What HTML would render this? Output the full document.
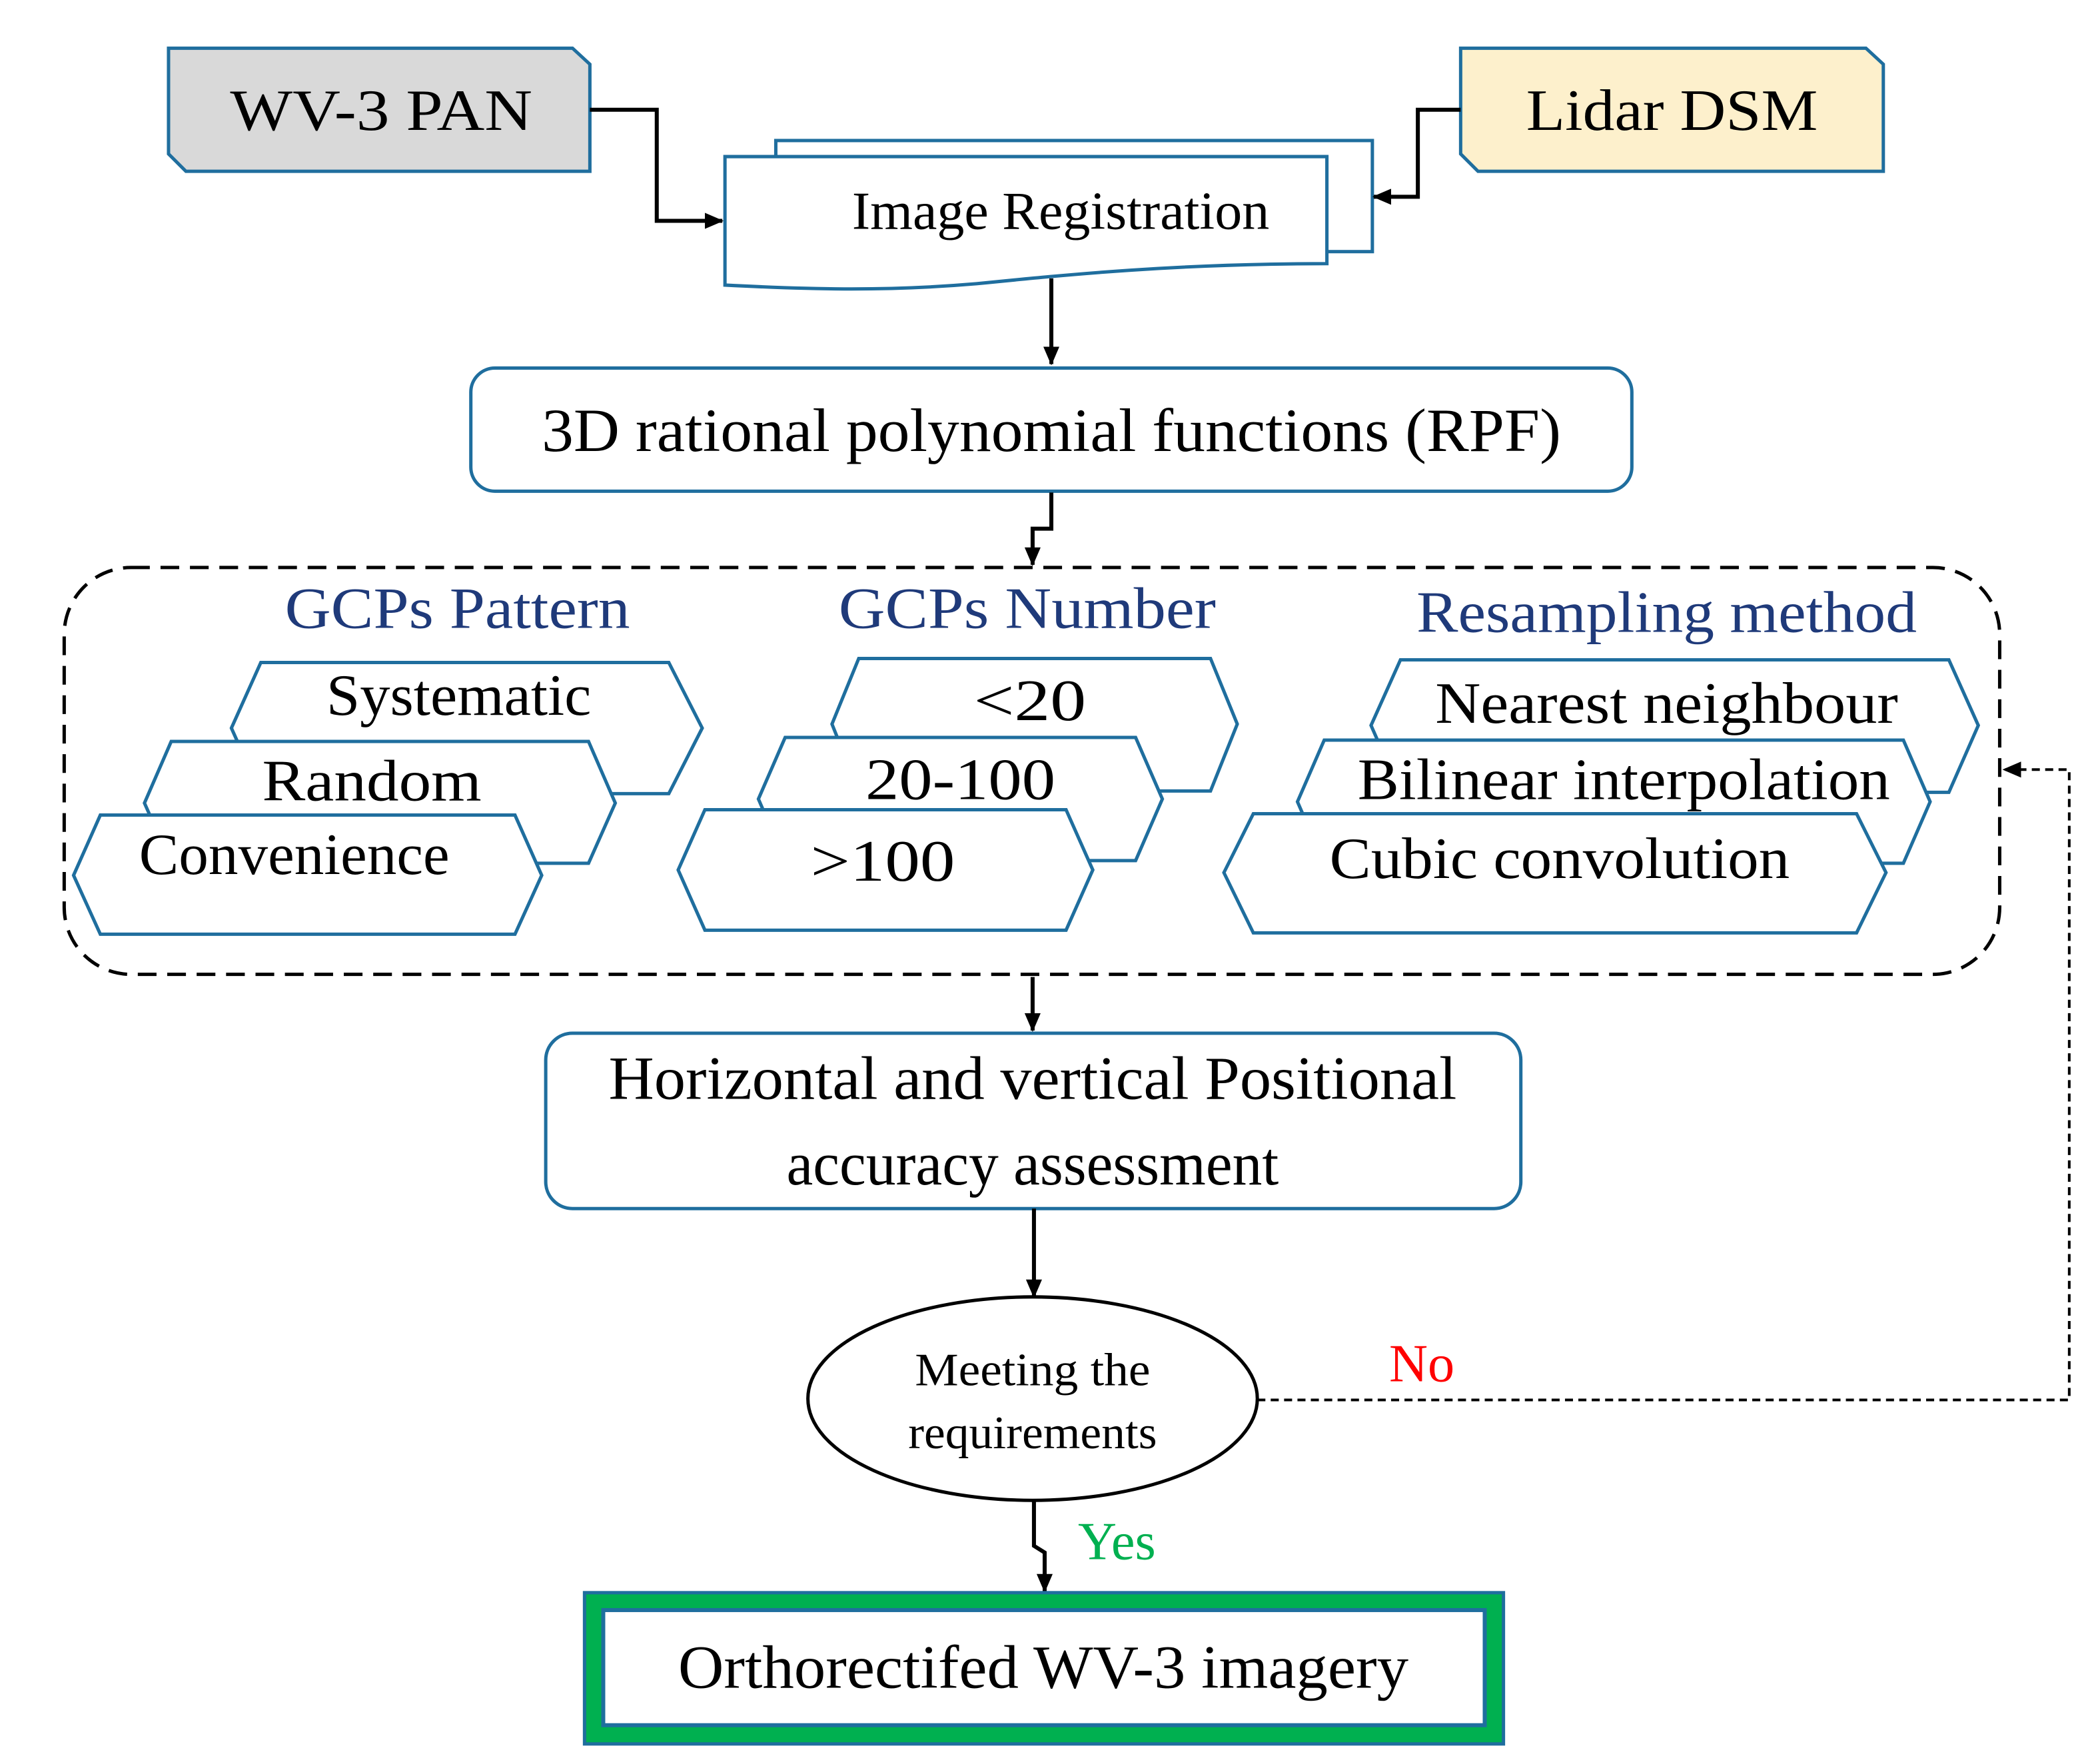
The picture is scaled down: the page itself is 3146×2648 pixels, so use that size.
<!DOCTYPE html>
<html><head><meta charset="utf-8"><style>html,body{margin:0;padding:0;background:#fff}svg{display:block}</style></head>
<body>
<svg width="3146" height="2648" viewBox="0 0 1567 1318" preserveAspectRatio="none" xmlns="http://www.w3.org/2000/svg" font-family="'Liberation Serif', serif">
<defs><marker id="a" markerWidth="14" markerHeight="12" refX="13" refY="6" orient="auto" markerUnits="userSpaceOnUse"><path d="M0,0 L14,6 L0,12 z" fill="#000"/></marker></defs>
<rect width="1567" height="1318" fill="#fff"/>
<g stroke="#1f6e9e" stroke-width="2.5">
<polygon points="126,36 428,36 441,48 441,128 139,128 126,115" fill="#d9d9d9"/>
<polygon points="1092,36 1395,36 1408,48 1408,128 1105,128 1092,115" fill="#fdf0cc"/>
<rect x="580" y="105" width="446" height="83" fill="#fff"/>
<path d="M542,117 H992 V197 C880,197 800,205 730,212 C660,218 600,216 542,213 Z" fill="#fff"/>
<rect x="352" y="275" width="868" height="92" rx="18" fill="#fff"/>
<rect x="408" y="772" width="729" height="131" rx="20" fill="#fff"/>
</g>
<g font-size="44" text-anchor="middle" fill="#000">
<text x="285" y="97" textLength="226" lengthAdjust="spacingAndGlyphs">WV-3 PAN</text>
<text x="1250" y="97" textLength="218" lengthAdjust="spacingAndGlyphs">Lidar DSM</text>
<text x="793" y="171" font-size="40" textLength="312" lengthAdjust="spacingAndGlyphs">Image Registration</text>
<text x="786" y="337" font-size="46" textLength="762" lengthAdjust="spacingAndGlyphs">3D rational polynomial functions (RPF)</text>
<text x="772" y="821" font-size="46" textLength="634" lengthAdjust="spacingAndGlyphs">Horizontal and vertical Positional</text>
<text x="772" y="885" font-size="46" textLength="368" lengthAdjust="spacingAndGlyphs">accuracy assessment</text>
</g>
<g stroke="#000" stroke-width="3" fill="none">
<polyline points="441,82 491,82 491,165 540,165" marker-end="url(#a)"/>
<polyline points="1092,82 1060,82 1060,147 1027,147" marker-end="url(#a)"/>
<line x1="786" y1="208" x2="786" y2="272" marker-end="url(#a)"/>
<polyline points="786,368 786,395 772,395 772,422" marker-end="url(#a)"/>
<line x1="772" y1="730" x2="772" y2="770" marker-end="url(#a)"/>
<line x1="773" y1="903" x2="773" y2="969" marker-end="url(#a)"/>
<polyline points="773,1122 773,1155 781,1160 781,1189" marker-end="url(#a)"/>
</g>
<rect x="48" y="424" width="1447" height="304" rx="50" fill="none" stroke="#000" stroke-width="2.5" stroke-dasharray="14,8"/>
<g font-size="44" text-anchor="middle" fill="#1f3a7a">
<text x="342" y="469" textLength="258" lengthAdjust="spacingAndGlyphs">GCPs Pattern</text>
<text x="768" y="469" textLength="282" lengthAdjust="spacingAndGlyphs">GCPs Number</text>
<text x="1246" y="472" textLength="374" lengthAdjust="spacingAndGlyphs">Resampling method</text>
</g>
<g stroke="#1f6e9e" stroke-width="2.5" fill="#fff">
<polygon points="173,544 195,495 500,495 525,544 500,593 195,593"/>
<polygon points="108,600 128,554 440,554 460,600 440,645 128,645"/>
<polygon points="55,654 75,609 385,609 405,654 385,698 75,698"/>
<polygon points="622,541 642,492 905,492 925,541 905,591 642,591"/>
<polygon points="567,597 587,551 849,551 869,597 849,643 587,643"/>
<polygon points="507,650 527,605 797,605 817,650 797,695 527,695"/>
<polygon points="1025,542 1047,493 1457,493 1479,542 1457,592 1047,592"/>
<polygon points="970,599 990,553 1423,553 1443,599 1423,645 990,645"/>
<polygon points="915,652 937,608 1388,608 1410,652 1388,697 937,697"/>
</g>
<g font-size="44" text-anchor="middle" fill="#000">
<text x="343" y="534" textLength="198" lengthAdjust="spacingAndGlyphs">Systematic</text>
<text x="278" y="598" textLength="164" lengthAdjust="spacingAndGlyphs">Random</text>
<text x="220" y="653" textLength="232" lengthAdjust="spacingAndGlyphs">Convenience</text>
<text x="770" y="538" textLength="84" lengthAdjust="spacingAndGlyphs">&lt;20</text>
<text x="718" y="597" textLength="142" lengthAdjust="spacingAndGlyphs">20-100</text>
<text x="660" y="658" textLength="108" lengthAdjust="spacingAndGlyphs">&gt;100</text>
<text x="1246" y="540" textLength="346" lengthAdjust="spacingAndGlyphs">Nearest neighbour</text>
<text x="1214" y="597" textLength="398" lengthAdjust="spacingAndGlyphs">Bilinear interpolation</text>
<text x="1166" y="656" textLength="344" lengthAdjust="spacingAndGlyphs">Cubic convolution</text>
</g>
<ellipse cx="772" cy="1045" rx="168" ry="76" fill="#fff" stroke="#000" stroke-width="2.5"/>
<g font-size="35" text-anchor="middle" fill="#000">
<text x="772" y="1035" textLength="176" lengthAdjust="spacingAndGlyphs">Meeting the</text>
<text x="772" y="1082" textLength="186" lengthAdjust="spacingAndGlyphs">requirements</text>
</g>
<polyline points="940,1046 1547,1046 1547,575 1498,575" fill="none" stroke="#000" stroke-width="2" stroke-dasharray="6,4" marker-end="url(#a)"/>
<text x="1063" y="1032" font-size="40" fill="#ff0000" text-anchor="middle">No</text>
<text x="835" y="1165" font-size="40" fill="#00b050" text-anchor="middle">Yes</text>
<rect x="437" y="1190" width="687" height="113" fill="#00b050" stroke="#1f6e9e" stroke-width="2.5"/>
<rect x="451" y="1203" width="659" height="86" fill="#fff" stroke="#1f6e9e" stroke-width="3"/>
<text x="780" y="1261" font-size="46" text-anchor="middle" textLength="546" lengthAdjust="spacingAndGlyphs">Orthorectifed WV-3 imagery</text>
</svg>
</body></html>
